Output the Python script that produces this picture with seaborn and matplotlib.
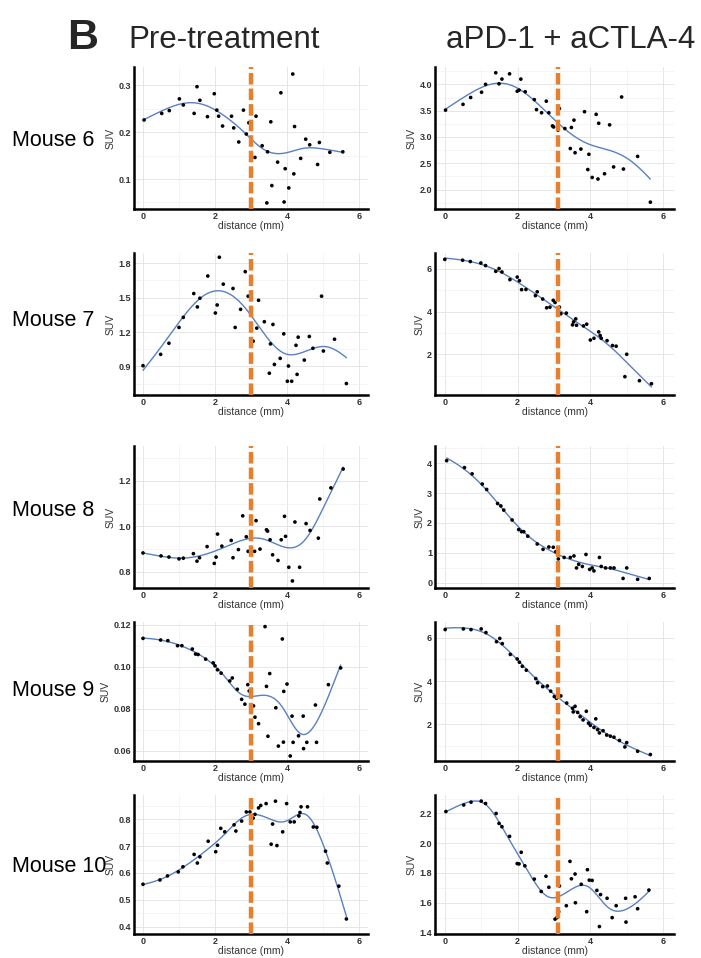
import numpy as np
import pandas as pd
import matplotlib
matplotlib.use("Agg")
import matplotlib.pyplot as plt
from matplotlib import font_manager
from matplotlib.ticker import MultipleLocator, FuncFormatter
import seaborn as sns

# ---------------- data ----------------
m6_pre_x = [0.03,0.52,0.73,1.01,1.12,1.42,1.50,1.58,1.79,1.98,2.05,2.10,2.21,2.46,2.52,2.66,2.79,2.87,2.94,3.14,3.11,3.31,3.46,3.55,3.58,3.44,3.74,3.83,3.95,3.92,4.05,4.16,4.19,4.21,4.38,4.52,4.63,4.85,4.90,5.19,5.55]
m6_pre_y = [0.226,0.240,0.246,0.271,0.258,0.240,0.297,0.268,0.233,0.282,0.247,0.234,0.213,0.234,0.209,0.179,0.247,0.196,0.220,0.234,0.146,0.171,0.158,0.222,0.086,0.049,0.136,0.284,0.122,0.051,0.081,0.324,0.111,0.212,0.144,0.185,0.173,0.131,0.178,0.157,0.158]

m6_post_x = [0.02,0.50,0.71,1.01,1.12,1.40,1.49,1.57,1.78,1.99,2.04,2.09,2.21,2.46,2.52,2.66,2.79,2.86,2.96,2.99,3.11,3.15,3.30,3.45,3.48,3.55,3.58,3.74,3.84,3.96,3.93,4.05,4.16,4.21,4.23,4.39,4.53,4.64,4.86,4.91,5.30,5.65]
m6_post_y = [3.51,3.62,3.75,3.85,4.00,4.22,4.01,4.10,4.20,3.87,3.89,4.10,3.86,3.71,3.52,3.46,3.68,3.46,3.21,3.19,3.13,3.54,3.16,2.78,3.18,3.32,2.70,2.77,3.48,2.67,2.38,2.23,3.43,2.20,3.26,2.30,3.23,2.43,3.76,2.39,2.63,1.76]

m7_pre_x = [0.00,0.49,0.72,1.00,1.12,1.41,1.51,1.58,1.80,2.01,2.06,2.12,2.23,2.50,2.56,2.71,2.84,2.92,3.06,3.16,3.21,3.37,3.54,3.61,3.65,3.81,3.91,4.04,4.25,4.31,4.48,4.62,4.72,4.96,5.01,5.32,3.51,4.28,4.01,4.13,5.65]
m7_pre_y = [0.906,1.005,1.102,1.240,1.328,1.536,1.419,1.495,1.689,1.366,1.436,1.853,1.618,1.580,1.240,1.398,1.727,1.513,1.120,1.234,1.477,1.290,1.096,1.266,0.917,0.970,1.184,0.903,1.084,1.155,0.955,1.161,1.058,1.513,1.034,1.137,0.840,0.830,0.770,0.770,0.750]

m7_post_x = [0.00,0.49,0.70,0.99,1.12,1.40,1.49,1.57,1.79,1.99,2.05,2.11,2.23,2.49,2.54,2.69,2.80,2.89,2.98,3.03,3.15,3.19,3.34,3.51,3.54,3.60,3.62,3.81,3.90,4.00,4.10,4.23,4.27,4.30,4.46,4.61,4.71,5.00,4.95,5.35,5.68]
m7_post_y = [6.45,6.41,6.35,6.28,6.16,5.89,6.02,5.86,5.50,5.62,5.45,5.03,5.04,4.75,4.93,4.59,4.18,4.21,4.53,4.43,4.21,3.90,3.93,3.38,3.52,3.66,3.36,3.33,3.41,2.67,2.75,3.05,2.88,2.75,2.64,2.41,2.38,2.00,0.95,0.76,0.62]

m8_pre_x = [0.00,0.50,0.72,1.00,1.12,1.40,1.50,1.57,1.78,1.98,2.03,2.07,2.19,2.45,2.50,2.65,2.77,2.87,2.92,3.10,3.14,3.25,3.43,3.46,3.53,3.60,3.75,3.84,3.93,3.96,4.05,4.15,4.22,4.35,4.53,4.64,4.87,4.91,5.22,5.56]
m8_pre_y = [0.883,0.870,0.865,0.857,0.860,0.880,0.847,0.862,0.911,0.837,0.865,0.966,0.913,0.938,0.862,0.898,1.046,0.954,0.890,0.890,1.025,0.900,0.985,0.979,0.941,0.875,0.850,0.941,1.044,0.956,0.820,0.760,1.019,0.820,1.012,0.982,0.948,1.120,1.169,1.252]

m8_post_x = [0.05,0.54,0.75,1.03,1.15,1.45,1.54,1.62,1.85,2.03,2.11,2.17,2.28,2.54,2.70,2.86,2.98,3.05,3.12,3.28,3.45,3.55,3.62,3.68,3.78,3.88,3.98,4.05,4.10,4.25,4.30,4.42,4.55,4.65,4.90,5.00,5.30,5.62]
m8_post_y = [4.08,3.85,3.64,3.30,3.12,2.65,2.57,2.43,2.10,1.78,1.71,1.71,1.56,1.30,1.12,1.20,1.19,1.04,0.80,0.85,0.85,0.90,0.50,0.62,0.55,0.95,0.45,0.50,0.40,0.85,0.55,0.50,0.50,0.50,0.15,0.50,0.12,0.15]

m9_pre_x = [0.00,0.49,0.69,0.96,1.08,1.37,1.46,1.53,1.74,1.95,2.00,2.07,2.17,2.41,2.48,2.62,2.74,2.83,2.91,2.95,3.07,3.11,3.39,3.43,3.52,3.69,3.87,3.91,4.00,4.14,4.45,4.79,5.15,5.49,3.21,3.47,3.76,3.90,4.09,4.17,4.32,4.46,4.55,4.82]
m9_pre_y = [0.1136,0.1128,0.1125,0.1101,0.1101,0.1085,0.1061,0.1059,0.1037,0.1019,0.1005,0.0986,0.0970,0.0933,0.0947,0.0893,0.0845,0.0822,0.0915,0.0885,0.0814,0.0760,0.1192,0.0907,0.0968,0.0805,0.1133,0.0883,0.0918,0.0765,0.0765,0.0818,0.0915,0.0995,0.0729,0.0669,0.0622,0.0641,0.0575,0.0640,0.0671,0.0610,0.0640,0.0640]

m9_post_x = [0.01,0.51,0.72,1.00,1.13,1.42,1.51,1.58,1.80,1.99,2.05,2.13,2.24,2.50,2.55,2.69,2.82,2.91,3.01,3.07,3.19,3.35,3.51,3.58,3.53,3.89,3.65,3.72,3.80,3.95,4.00,4.10,4.15,4.20,4.25,4.35,4.45,4.55,4.65,4.80,4.95,5.00,5.30,5.65]
m9_post_y = [6.38,6.41,6.38,6.41,6.24,5.82,5.97,5.73,5.23,5.02,4.87,4.68,4.50,4.11,3.92,3.74,3.77,3.53,3.28,3.20,3.31,2.98,2.74,2.83,2.57,2.60,2.55,2.35,2.20,2.05,1.95,1.85,2.25,1.75,1.60,1.70,1.50,1.45,1.40,1.25,0.95,1.15,0.75,0.60]

m10_pre_x = [0.00,0.47,0.68,0.98,1.11,1.42,1.51,1.58,1.81,2.02,2.07,2.16,2.27,2.53,2.58,2.74,2.87,2.97,3.06,3.11,3.21,3.27,3.42,3.56,3.60,3.68,3.72,3.88,3.99,4.09,4.20,4.33,4.36,4.39,4.57,4.73,4.83,5.07,5.12,5.44,5.65]
m10_pre_y = [0.558,0.574,0.589,0.604,0.623,0.669,0.637,0.660,0.718,0.679,0.703,0.766,0.753,0.779,0.756,0.793,0.827,0.827,0.804,0.818,0.842,0.851,0.858,0.707,0.782,0.867,0.702,0.753,0.858,0.790,0.790,0.812,0.825,0.846,0.846,0.771,0.770,0.681,0.637,0.551,0.429]

m10_post_x = [0.03,0.52,0.72,1.00,1.12,1.41,1.49,1.57,1.78,1.99,2.04,2.10,2.20,2.46,2.65,2.78,2.86,3.15,3.44,3.48,3.58,3.92,3.97,4.05,3.75,4.18,3.03,3.08,3.13,3.34,3.59,3.90,4.25,4.28,4.46,4.60,4.71,4.97,4.98,5.23,5.30,5.61]
m10_post_y = [2.213,2.257,2.276,2.283,2.267,2.200,2.133,2.111,2.046,1.863,1.861,1.939,1.848,1.759,1.676,1.778,1.704,1.713,1.878,1.761,1.793,1.822,1.752,1.750,1.724,1.683,1.490,1.500,1.540,1.580,1.600,1.540,1.440,1.655,1.630,1.500,1.580,1.630,1.470,1.640,1.560,1.685]

mice = ["Mouse 6", "Mouse 7", "Mouse 8", "Mouse 9", "Mouse 10"]
conditions = ["Pre-treatment", "aPD-1 + aCTLA-4"]
series = {
    ("Mouse 6", "Pre-treatment"): (m6_pre_x, m6_pre_y),
    ("Mouse 6", "aPD-1 + aCTLA-4"): (m6_post_x, m6_post_y),
    ("Mouse 7", "Pre-treatment"): (m7_pre_x, m7_pre_y),
    ("Mouse 7", "aPD-1 + aCTLA-4"): (m7_post_x, m7_post_y),
    ("Mouse 8", "Pre-treatment"): (m8_pre_x, m8_pre_y),
    ("Mouse 8", "aPD-1 + aCTLA-4"): (m8_post_x, m8_post_y),
    ("Mouse 9", "Pre-treatment"): (m9_pre_x, m9_pre_y),
    ("Mouse 9", "aPD-1 + aCTLA-4"): (m9_post_x, m9_post_y),
    ("Mouse 10", "Pre-treatment"): (m10_pre_x, m10_pre_y),
    ("Mouse 10", "aPD-1 + aCTLA-4"): (m10_post_x, m10_post_y),
}
# tumour border distance (dashed line) per condition
border = {"Pre-treatment": 3.0, "aPD-1 + aCTLA-4": 3.1}

# ---------------- smoothing / styling / layout ----------------
# penalised-spline (GAM-like) smoothing strength per panel
lams = {
    ("Mouse 6", "Pre-treatment"): 0.5, ("Mouse 6", "aPD-1 + aCTLA-4"): 1.5,
    ("Mouse 7", "Pre-treatment"): 0.8, ("Mouse 7", "aPD-1 + aCTLA-4"): 0.5,
    ("Mouse 8", "Pre-treatment"): 0.08, ("Mouse 8", "aPD-1 + aCTLA-4"): 0.3,
    ("Mouse 9", "Pre-treatment"): 0.06, ("Mouse 9", "aPD-1 + aCTLA-4"): 0.3,
    ("Mouse 10", "Pre-treatment"): 0.04, ("Mouse 10", "aPD-1 + aCTLA-4"): 0.03,
}
ylims = {
    ("Mouse 6", "Pre-treatment"): (0.036, 0.339), ("Mouse 6", "aPD-1 + aCTLA-4"): (1.63, 4.33),
    ("Mouse 7", "Pre-treatment"): (0.65, 1.89), ("Mouse 7", "aPD-1 + aCTLA-4"): (0.09, 6.75),
    ("Mouse 8", "Pre-treatment"): (0.729, 1.353), ("Mouse 8", "aPD-1 + aCTLA-4"): (-0.17, 4.57),
    ("Mouse 9", "Pre-treatment"): (0.0551, 0.1214), ("Mouse 9", "aPD-1 + aCTLA-4"): (0.30, 6.73),
    ("Mouse 10", "Pre-treatment"): (0.373, 0.89), ("Mouse 10", "aPD-1 + aCTLA-4"): (1.39, 2.324),
}
ysteps = {
    ("Mouse 6", "Pre-treatment"): 0.1, ("Mouse 6", "aPD-1 + aCTLA-4"): 0.5,
    ("Mouse 7", "Pre-treatment"): 0.3, ("Mouse 7", "aPD-1 + aCTLA-4"): 2,
    ("Mouse 8", "Pre-treatment"): 0.2, ("Mouse 8", "aPD-1 + aCTLA-4"): 1,
    ("Mouse 9", "Pre-treatment"): 0.02, ("Mouse 9", "aPD-1 + aCTLA-4"): 2,
    ("Mouse 10", "Pre-treatment"): 0.1, ("Mouse 10", "aPD-1 + aCTLA-4"): 0.2,
}
yfmt = {
    ("Mouse 6", "Pre-treatment"): "{:.1f}", ("Mouse 6", "aPD-1 + aCTLA-4"): "{:.1f}",
    ("Mouse 7", "Pre-treatment"): "{:.1f}", ("Mouse 7", "aPD-1 + aCTLA-4"): "{:.0f}",
    ("Mouse 8", "Pre-treatment"): "{:.1f}", ("Mouse 8", "aPD-1 + aCTLA-4"): "{:.0f}",
    ("Mouse 9", "Pre-treatment"): "{:.2f}", ("Mouse 9", "aPD-1 + aCTLA-4"): "{:.0f}",
    ("Mouse 10", "Pre-treatment"): "{:.1f}", ("Mouse 10", "aPD-1 + aCTLA-4"): "{:.1f}",
}


def bspline_basis(x, xl, xr, nseg=10, deg=3):
    x = np.asarray(x, float)
    dx = (xr - xl) / nseg
    knots = xl + dx * np.arange(-deg, nseg + deg + 1)
    B = np.zeros((len(x), len(knots) - 1))
    for i in range(len(knots) - 1):
        B[:, i] = (x >= knots[i]) & (x < knots[i + 1])
    for k in range(1, deg + 1):
        Bn = np.zeros((len(x), len(knots) - 1 - k))
        for i in range(len(knots) - 1 - k):
            a = (x - knots[i]) / (knots[i + k] - knots[i]) * B[:, i]
            b = (knots[i + k + 1] - x) / (knots[i + k + 1] - knots[i + 1]) * B[:, i + 1]
            Bn[:, i] = a + b
        B = Bn
    return B


def pspline(x, y, lam, grid, nseg=10):
    x = np.asarray(x, float); y = np.asarray(y, float)
    xl, xr = min(x.min(), grid.min()) - 1e-6, max(x.max(), grid.max()) + 1e-6
    B = bspline_basis(x, xl, xr, nseg)
    D = np.diff(np.eye(B.shape[1]), n=2, axis=0)
    a = np.linalg.solve(B.T @ B + lam * D.T @ D, B.T @ y)
    return bspline_basis(grid, xl, xr, nseg) @ a


sns.set_theme(style="white")
plt.rcParams['font.family'] = ['Liberation Sans', 'DejaVu Sans']

installed = {f.name for f in font_manager.fontManager.ttflist}
if "Liberation Sans Narrow" in installed:
    title_family, title_size = ["Liberation Sans Narrow", "Liberation Sans"], 27
else:
    title_family, title_size = ["Liberation Sans", "DejaVu Sans"], 22.5

W, H = 701, 958
fig = plt.figure(figsize=(W / 100, H / 100), dpi=100)

rows_px = [(67, 209), (253, 395), (446, 588), (622, 761), (795, 934)]
cols_px = [(134, 368), (435, 674)]
xlims = [(-0.25, 6.25), (-0.27, 6.3)]
label_y = [140, 321, 510, 690, 866]

ORANGE = "#E4802F"
BLUE = "#5A80C2"

for r, mouse in enumerate(mice):
    top, bot = rows_px[r]
    for c, cond in enumerate(conditions):
        left, right = cols_px[c]
        ax = fig.add_axes([left / W, 1 - bot / H, (right - left) / W, (bot - top) / H])
        key = (mouse, cond)
        xs, ys = series[key]
        df = pd.DataFrame({"distance": xs, "SUV": ys})
        grid = np.linspace(min(xs), max(xs), 200)
        fit = pd.DataFrame({"distance": grid, "SUV": pspline(xs, ys, lams[key], grid)})

        ax.set_axisbelow(True)
        sns.lineplot(data=fit, x="distance", y="SUV", ax=ax, color=BLUE, linewidth=1.0, zorder=2)
        sns.scatterplot(data=df, x="distance", y="SUV", ax=ax, color="black", s=7,
                        edgecolor="none", zorder=3)
        ax.axvline(border[cond], color=ORANGE, linewidth=3.2, dashes=(2.6, 0.9), zorder=4)

        ax.set_xlim(*xlims[c])
        ax.set_ylim(*ylims[key])
        ax.xaxis.set_major_locator(MultipleLocator(2))
        ax.xaxis.set_minor_locator(MultipleLocator(1))
        step = ysteps[key]
        ax.yaxis.set_major_locator(MultipleLocator(step))
        ax.yaxis.set_minor_locator(MultipleLocator(step / 2))
        ax.yaxis.set_major_formatter(FuncFormatter(lambda v, p, f=yfmt[key]: f.format(v)))
        ax.grid(True, which="major", color="#E6E6E6", linewidth=0.7)
        ax.grid(True, which="minor", color="#F2F2F2", linewidth=0.5)
        for s in ["top", "right"]:
            ax.spines[s].set_visible(False)
        for s in ["left", "bottom"]:
            ax.spines[s].set_color("black")
            ax.spines[s].set_linewidth(1.8)
        ax.tick_params(axis="both", which="both", length=0, pad=2, labelsize=6.5,
                       labelcolor="#333333")
        for lab in ax.get_xticklabels() + ax.get_yticklabels():
            lab.set_fontweight("bold")
        ax.set_xlabel("distance (mm)", fontsize=7.5, color="#333333", labelpad=0)
        ax.set_ylabel("SUV", fontsize=7.5, color="#333333", labelpad=2)

    fig.text(12 / W, 1 - label_y[r] / H, mouse, fontsize=15.5, ha="left", va="center",
             color="black")

fig.text(67 / W, 1 - 38 / H, "B", fontsize=31, fontweight="bold", ha="left", va="center")
fig.text(128 / W, 1 - 40 / H, "Pre-treatment", fontsize=title_size, family=title_family,
         ha="left", va="center")
fig.text(446 / W, 1 - 40 / H, "aPD-1 + aCTLA-4", fontsize=title_size, family=title_family,
         ha="left", va="center")

fig.savefig("out.png", dpi=100, facecolor="white")
